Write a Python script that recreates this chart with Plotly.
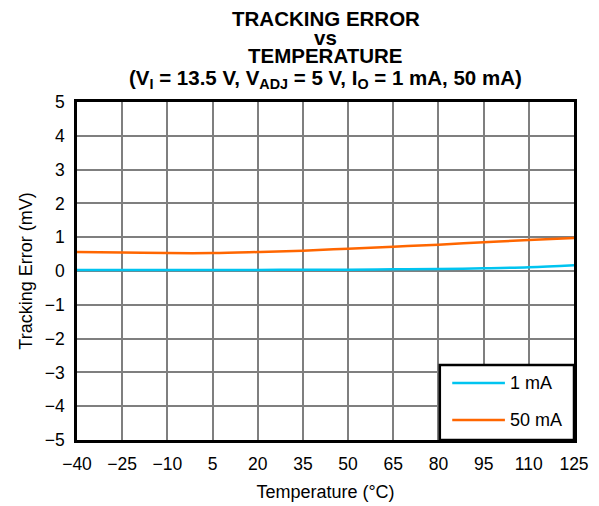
import plotly.graph_objects as go

temps = [-40, -25, -10, 5, 20, 35, 50, 65, 80, 95, 110, 125]
err_1ma = [0.03, 0.03, 0.03, 0.03, 0.03, 0.04, 0.04, 0.05, 0.06, 0.08, 0.11, 0.17]
err_50ma = [0.56, 0.55, 0.53, 0.53, 0.56, 0.60, 0.66, 0.72, 0.78, 0.85, 0.92, 0.98]
series_names = ["1 mA", "50 mA"]
series_colors = ["#00c4f0", "#ff6600"]
xticks = [-40, -25, -10, 5, 20, 35, 50, 65, 80, 95, 110, 125]
yticks = [-5, -4, -3, -2, -1, 0, 1, 2, 3, 4, 5]
title_lines = ["TRACKING ERROR", "vs", "TEMPERATURE",
               "(V<sub>I</sub> = 13.5 V, V<sub>ADJ</sub> = 5 V, I<sub>O</sub> = 1 mA, 50 mA)"]

FONT = "Liberation Sans, Arial, sans-serif"

def lab(v):
    return str(v).replace("-", "\u2212")

fig = go.Figure()
for name, ys, col in zip(series_names, [err_1ma, err_50ma], series_colors):
    fig.add_trace(go.Scatter(x=temps, y=ys, mode="lines", name=name, showlegend=False,
                             line=dict(color=col, width=2.5, shape="spline")))

W, H = 599, 506
ml, mr, mt, mb = 77, 25, 102, 66

# title lines as annotations (pixel centres converted to paper coords)
title_y = [19, 37, 56, 79]
for txt, yp in zip(title_lines, title_y):
    fig.add_annotation(text="<b>" + txt + "</b>", xref="paper", yref="paper",
                       x=0.5, y=(H - mb - yp) / (H - mt - mb), xanchor="center", yanchor="middle",
                       showarrow=False, font=dict(size=20.5, family=FONT, color="black"))

# custom legend
fig.add_shape(type="rect", xref="x domain", yref="y domain", x0=0.730, x1=1.0, y0=0.0, y1=0.222,
              line=dict(color="black", width=2.5), fillcolor="white", layer="above")
leg_y = [0.169, 0.059]
for name, col, yy in zip(series_names, series_colors, leg_y):
    fig.add_shape(type="line", xref="x domain", yref="y domain", x0=0.755, x1=0.861,
                  y0=yy, y1=yy, line=dict(color=col, width=2.5), layer="above")
    fig.add_annotation(text=name, xref="x domain", yref="y domain", x=0.868, y=yy,
                       xanchor="left", yanchor="middle", showarrow=False,
                       font=dict(size=18, family=FONT, color="black"))

fig.update_layout(
    width=W, height=H,
    margin=dict(l=ml, r=mr, t=mt, b=mb, autoexpand=False),
    paper_bgcolor="white", plot_bgcolor="white",
    font=dict(family=FONT, size=18, color="black"),
    showlegend=False,
    xaxis=dict(
        range=[-40, 125], tickvals=xticks, ticktext=[lab(v) for v in xticks],
        tickfont=dict(size=17.5, family=FONT, color="black"),
        showgrid=True, gridcolor="#7f7f7f", gridwidth=1.5,
        showline=True, linecolor="black", linewidth=2.5, mirror=True,
        zeroline=False, ticks="outside", ticklen=6, tickcolor="white",
        automargin=False,
        title=dict(text="Temperature (°C)", font=dict(size=18, family=FONT), standoff=13),
    ),
    yaxis=dict(
        range=[-5, 5], tickvals=yticks, ticktext=[lab(v) for v in yticks],
        tickfont=dict(size=17.5, family=FONT, color="black"),
        showgrid=True, gridcolor="#7f7f7f", gridwidth=1.5,
        showline=True, linecolor="black", linewidth=2.5, mirror=True,
        zeroline=False, ticks="outside", ticklen=6, tickcolor="white",
        automargin=False,
        title=dict(text="Tracking Error (mV)", font=dict(size=18, family=FONT), standoff=8),
    ),
)

fig.write_html("out.html")
